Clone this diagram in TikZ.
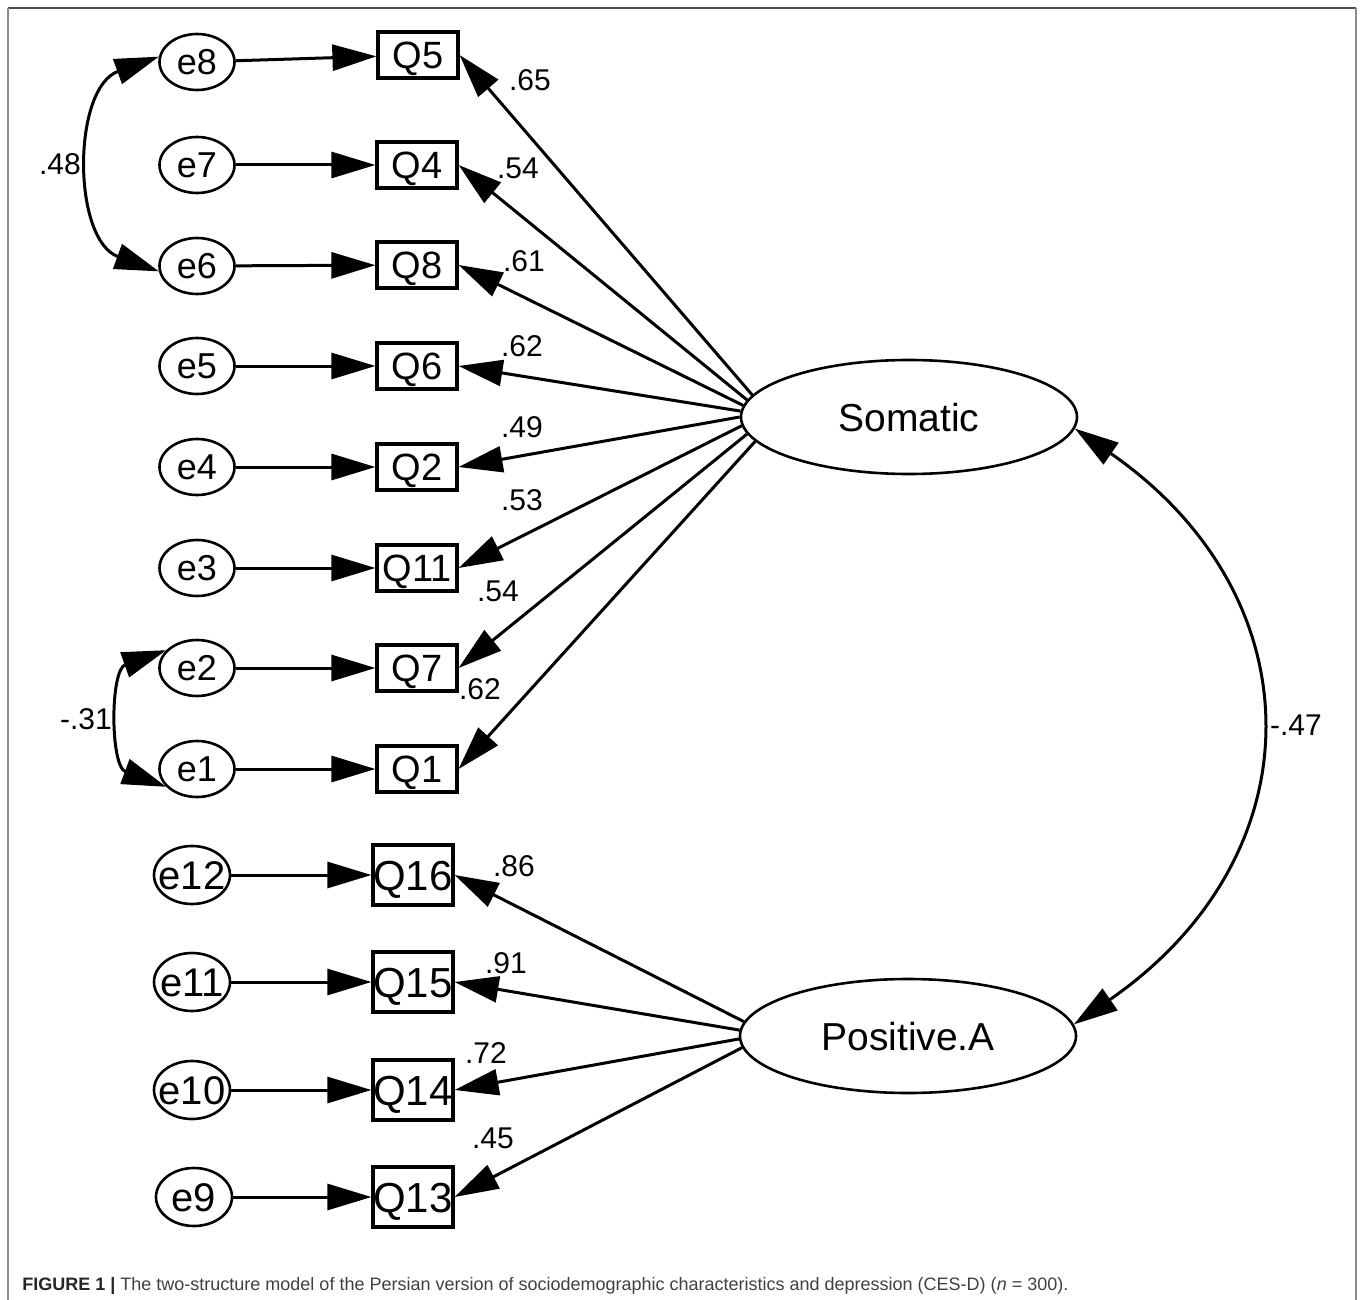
\documentclass[tikz,border=0pt]{standalone}
\usepackage{fontspec}
\setmainfont{Liberation Sans}
\usetikzlibrary{arrows.meta, shapes.geometric}
\tikzset{x=0.5pt, y=-0.5pt, >={Triangle[length=22pt,width=13pt]},
	err/.style={ellipse, draw, line width=1.3pt, minimum width=37.5pt, minimum height=28pt, inner sep=0pt, text height=12.9pt, text depth=0pt, font=\fontsize{18}{18}\selectfont},
	errb/.style={err, minimum width=38pt, minimum height=29pt, text height=14.3pt, font=\fontsize{20}{20}\selectfont},
	obs/.style={rectangle, draw, line width=1.6pt, minimum width=40pt, minimum height=23pt, inner sep=0pt, text height=13.6pt, text depth=0pt, font=\fontsize{19}{19}\selectfont},
	obsb/.style={obs, minimum height=30pt, text height=15pt, font=\fontsize{21}{21}\selectfont},
	latent/.style={ellipse, draw, line width=1.3pt, minimum width=168pt, minimum height=57pt, inner sep=0pt, text height=14pt, text depth=0pt, font=\fontsize{19.5}{20}\selectfont},
	coef/.style={inner sep=0pt, font=\fontsize{15}{15}\selectfont},
	load/.style={->, line width=1.5pt}}

\begin{document}
\begin{tikzpicture}
	\useasboundingbox (0,0) rectangle (1360,1300);
	\draw[black!70, line width=1pt] (8,8) -- (1356,8);
	\draw[black!45, line width=1pt] (8,1300) -- (8,8) (1356,8) -- (1356,1300);

	\node[latent] (Soma) at (909,417) {Somatic};
	\node[latent] (Pos) at (908,1036) {Positive.A};

	\node[err] (e8) at (197,62) {e8};
	\node[err] (e7) at (197,165) {e7};
	\node[err] (e6) at (197,266) {e6};
	\node[err] (e5) at (197,366) {e5};
	\node[err] (e4) at (197,467) {e4};
	\node[err] (e3) at (197,568) {e3};
	\node[err] (e2) at (197,668) {e2};
	\node[err] (e1) at (197,769) {e1};
	\node[errb] (e12) at (192,875) {\makebox[0pt]{e12}};
	\node[errb] (e11) at (192,982) {\makebox[0pt]{e11}};
	\node[errb] (e10) at (192,1090) {\makebox[0pt]{e10}};
	\node[errb] (e9) at (194,1197) {\makebox[0pt]{e9}};

	\node[obs] (Q5) at (418,55) {Q5};
	\node[obs] (Q4) at (417,165) {Q4};
	\node[obs] (Q8) at (417,265) {Q8};
	\node[obs] (Q6) at (417,366) {Q6};
	\node[obs] (Q2) at (417,467) {Q2};
	\node[obs] (Q11) at (417,568) {Q11};
	\node[obs] (Q7) at (417,668) {Q7};
	\node[obs] (Q1) at (417,769) {Q1};
	\node[obsb] (Q16) at (413,875) {Q16};
	\node[obsb] (Q15) at (413,982) {Q15};
	\node[obsb] (Q14) at (413,1090) {Q14};
	\node[obsb] (Q13) at (413,1197) {Q13};

	\path[load]
		(e8) edge (Q5)
		(e7) edge (Q4)
		(e6) edge (Q8)
		(e5) edge (Q6)
		(e4) edge (Q2)
		(e3) edge (Q11)
		(e2) edge (Q7)
		(e1) edge (Q1)
		(e12) edge (Q16)
		(e11) edge (Q15)
		(e10) edge (Q14)
		(e9) edge (Q13)
		;
	\path[load]
		(Soma.172) edge (Q5.east)
		(Soma.174) edge (Q4.east)
		(Soma.176) edge (Q8.east)
		(Soma.178) edge (Q6.east)
		(Soma.180) edge (Q2.east)
		(Soma.183) edge (Q11.east)
		(Soma.186) edge (Q7.east)
		(Soma.189) edge (Q1.east)
		(Pos.175) edge (Q16.east)
		(Pos.178) edge (Q15.east)
		(Pos.181) edge (Q14.east)
		(Pos.184) edge (Q13.east)
		;

	% correlations
	\draw[<->, line width=1.5pt] (e8.172) .. controls (72,88) and (72,240) .. (e6.188);
	\draw[<->, line width=1.5pt] (e2.150) .. controls (110,670) and (110,766) .. (e1.210);
	\draw[<->, line width=1.5pt] (Soma.-4) .. controls (1318,597) and (1318,856) .. (Pos.4);

	\node[coef] (c65) at (530,80) {.65};
	\node[coef] (c54a) at (518,168) {.54};
	\node[coef] (c61) at (524,261) {.61};
	\node[coef] (c62a) at (522,346) {.62};
	\node[coef] (c49) at (522,427) {.49};
	\node[coef] (c53) at (522,500) {.53};
	\node[coef] (c54b) at (498,591) {.54};
	\node[coef] (c62b) at (480,689) {.62};
	\node[coef] (c86) at (514,866) {.86};
	\node[coef] (c91) at (506,963) {.91};
	\node[coef] (c72) at (486,1053) {.72};
	\node[coef] (c45) at (493,1138) {.45};
	\node[coef] (c48) at (60,164) {.48};
	\node[coef] (c31) at (86,719) {-.31};
	\node[coef] (c47) at (1296,725) {-.47};

	\node[anchor=base west, inner sep=0pt, text=black!75, font=\fontsize{9}{10}\selectfont] (cap) at (22,1290)
		{\textbf{\color{black!85}FIGURE 1 |} The two-structure model of the Persian version of sociodemographic characteristics and depression (CES-D) (\textit{n} = 300).};
\end{tikzpicture}
\end{document}
